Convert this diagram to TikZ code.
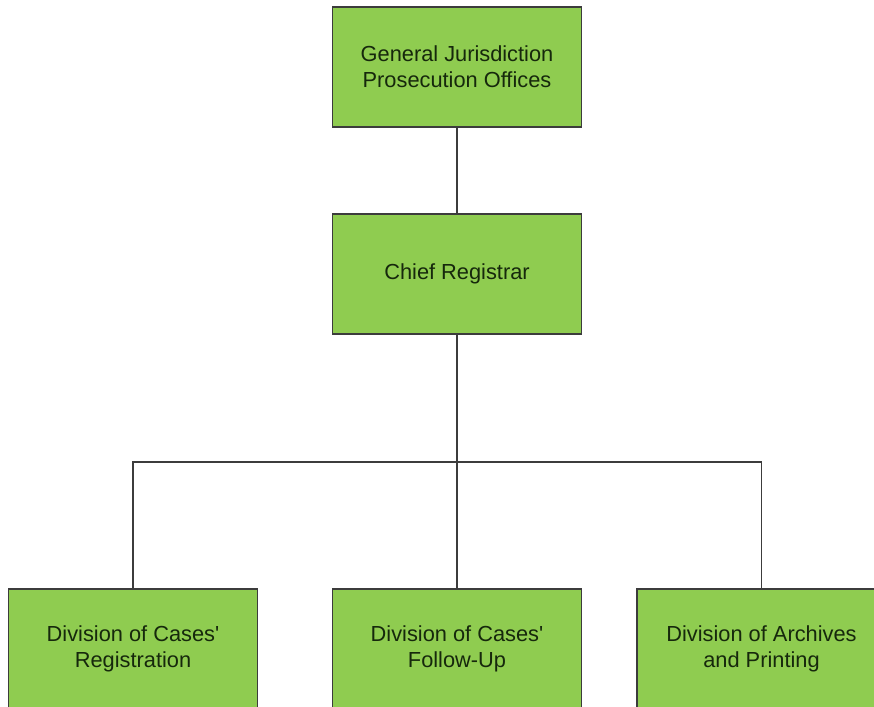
\documentclass[tikz,border=0pt]{standalone}
\usepackage{fontspec}
\setmainfont{Liberation Sans}[Ligatures=TeXOff]
\definecolor{boxfill}{RGB}{143,204,80}
\definecolor{boxline}{RGB}{60,60,60}
\definecolor{boxtext}{RGB}{22,40,12}
\begin{document}
\begin{tikzpicture}[x=1pt,y=-1pt,
  unit/.style={draw=boxline,line width=1.4pt,fill=boxfill,
    minimum width=249pt,minimum height=120pt,inner sep=0pt,
    align=center,text=boxtext,
    font=\fontsize{21.8}{26}\selectfont},
  link/.style={draw=boxline,line width=1.3pt}]
  \useasboundingbox (0,0) rectangle (874,706);
  \clip (0,0) rectangle (874,706);

  % boxes
  \node[unit] (gjpo)  at (457,67)    {General Jurisdiction\\Prosecution Offices};
  \node[unit] (chief) at (457,274)   {Chief Registrar};
  \node[unit] (reg)   at (133,649)   {Division of Cases'\\Registration};
  \node[unit] (fol)   at (457,649)   {Division of Cases'\\Follow-Up};
  \node[unit] (arch)  at (761.5,649) {Division of Archives\\and Printing};

  % bus between the registrar and its divisions
  \coordinate (bus) at (457,462);

  \draw[link] (gjpo.south) -- (chief.north);
  \draw[link] (chief.south) -- (fol.north);
  \draw[link] (reg.north) |- (bus) -| (arch.north);
\end{tikzpicture}
\end{document}
